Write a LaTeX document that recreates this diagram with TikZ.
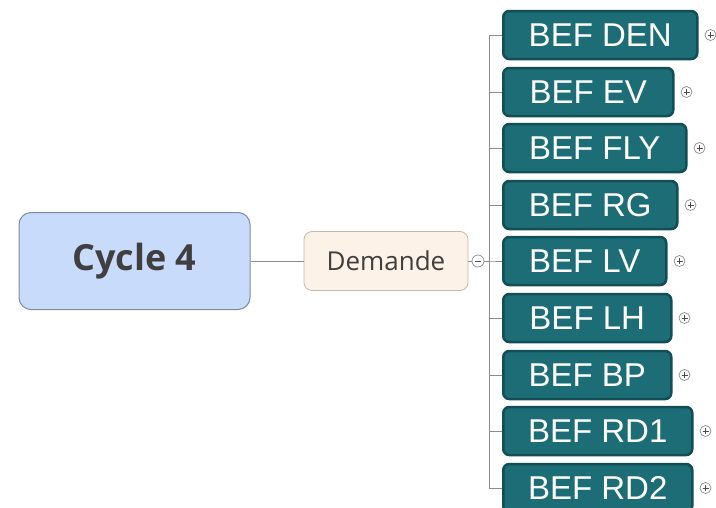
\documentclass[tikz,border=0pt]{standalone}
\usepackage{fontspec}
\setmainfont{Liberation Sans}
\newfontfamily\osans{Open Sans}
\definecolor{tealfill}{HTML}{1C6D76}
\definecolor{tealedge}{HTML}{124E55}
\definecolor{rootfill}{HTML}{C9DBFA}
\definecolor{rootedge}{HTML}{7D8BA3}
\definecolor{demfill}{HTML}{FDF2E7}
\definecolor{demedge}{HTML}{C9B8A6}
\definecolor{linegray}{HTML}{8C8C8C}
\definecolor{txtgray}{HTML}{3F3F3F}
\tikzset{
  befbox/.style={draw=tealedge, line width=2.5pt, fill=tealfill, rounded corners=6pt,
    minimum height=48pt, anchor=west, inner sep=0pt, text=white,
    font=\fontsize{33}{33}\selectfont},
  plusc/.style={circle, draw=gray!90, line width=0.7pt, minimum size=11pt, inner sep=0pt,
    path picture={\draw[line width=0.7pt,black!70] ([xshift=-3pt]path picture bounding box.center) -- ([xshift=3pt]path picture bounding box.center)
      ([yshift=-3pt]path picture bounding box.center) -- ([yshift=3pt]path picture bounding box.center);}},
  minusc/.style={circle, draw=gray!90, line width=0.7pt, minimum size=12pt, inner sep=0pt,
    path picture={\draw[line width=0.7pt,black!70] ([xshift=-3.2pt]path picture bounding box.center) -- ([xshift=3.2pt]path picture bounding box.center);}},
  conn/.style={draw=linegray, line width=0.8pt}
}
\begin{document}
\begin{tikzpicture}[x=1pt,y=-1pt]
\useasboundingbox[fill=white] (0,0) rectangle (716,507);
% root
\node[draw=rootedge, line width=1pt, fill=rootfill, rounded corners=12pt,
  minimum width=231pt, minimum height=97pt, inner sep=0pt, text=txtgray,
  font=\osans\bfseries\fontsize{36}{36}\selectfont] (root) at (134.5,261) {Cycle 4};
\node[draw=demedge, line width=0.8pt, fill=demfill, rounded corners=8pt,
  minimum width=164pt, minimum height=59pt, inner sep=0pt, text=txtgray,
  font=\osans\fontsize{26}{26}\selectfont] (dem) at (386,261) {Demande};
\draw[conn] (root.east) -- (dem.west);
\node[minusc] (col) at (478,261) {};
\draw[conn] (dem.east) -- (col.west);
% branches
\foreach \name/\lab/\y/\w in {b1/BEF DEN/35/194, b2/BEF EV/92/170, b3/BEF FLY/148/183,
  b4/BEF RG/205/174, b5/BEF LV/261/163, b6/BEF LH/318/168, b7/BEF BP/375/168,
  b8/BEF RD1/431/189, b9/BEF RD2/488/189}{
  \node[befbox, minimum width=\w pt] (\name) at (502,\y) {\lab};
  \node[plusc] (\name p) at ([xshift=12pt]\name.east) {};
  \draw[conn] (col.east) -- ++(5,0) |- (\name.west);
}
\end{tikzpicture}
\end{document}
